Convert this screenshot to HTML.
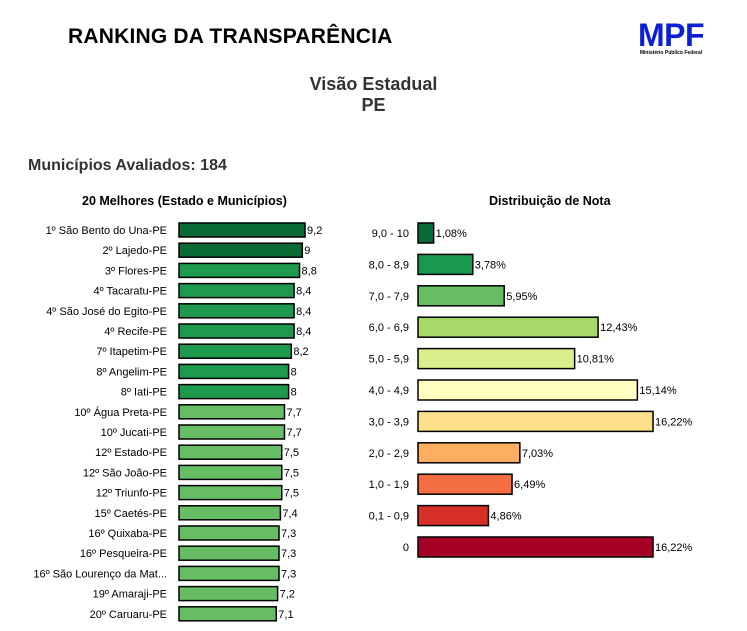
<!DOCTYPE html>
<html><head><meta charset="utf-8"><style>
body{margin:0;width:747px;height:631px;background:#fff;font-family:"Liberation Sans",sans-serif;overflow:hidden;position:relative}
.t{position:absolute;white-space:nowrap}
</style></head><body>
<div class="t" style="left:68px;top:25px;font-size:21px;font-weight:bold;color:#000;letter-spacing:0.2px">RANKING DA TRANSPARÊNCIA</div>
<div class="t" style="left:634px;top:20px;width:74px;text-align:center">
<div style="font-size:32px;font-weight:bold;color:#0a1fd6;line-height:30px;letter-spacing:-0.5px">MPF</div>
<div style="font-size:5px;font-weight:bold;color:#000">Ministério Público Federal</div></div>
<div class="t" style="left:0;width:747px;text-align:center;top:74px;font-size:18px;font-weight:bold;color:#333;line-height:21px">Visão Estadual<br>PE</div>
<div class="t" style="left:28px;top:157px;font-size:16px;font-weight:bold;color:#333">Municípios Avaliados: 184</div>
<div class="t" style="left:82px;top:194px;font-size:12.5px;font-weight:bold">20 Melhores (Estado e Municípios)</div>
<div class="t" style="left:489px;top:194px;font-size:12.5px;font-weight:bold">Distribuição de Nota</div>
<svg id="c" width="747" height="631" style="position:absolute;left:0;top:0"></svg>
<script>
const names=["1º São Bento do Una-PE","2º Lajedo-PE","3º Flores-PE","4º Tacaratu-PE","4º São José do Egito-PE","4º Recife-PE","7º Itapetim-PE","8º Angelim-PE","8º Iati-PE","10º Água Preta-PE","10º Jucati-PE","12º Estado-PE","12º São João-PE","12º Triunfo-PE","15º Caetés-PE","16º Quixaba-PE","16º Pesqueira-PE","16º São Lourenço da Mat...","19º Amaraji-PE","20º Caruaru-PE"];
const scores=[9.2,9,8.8,8.4,8.4,8.4,8.2,8,8,7.7,7.7,7.5,7.5,7.5,7.4,7.3,7.3,7.3,7.2,7.1];
const scoreLabels=["9,2","9","8,8","8,4","8,4","8,4","8,2","8","8","7,7","7,7","7,5","7,5","7,5","7,4","7,3","7,3","7,3","7,2","7,1"];
const ranges=["9,0 - 10","8,0 - 8,9","7,0 - 7,9","6,0 - 6,9","5,0 - 5,9","4,0 - 4,9","3,0 - 3,9","2,0 - 2,9","1,0 - 1,9","0,1 - 0,9","0"];
const pcts=[1.08,3.78,5.95,12.43,10.81,15.14,16.22,7.03,6.49,4.86,16.22];
const pctLabels=["1,08%","3,78%","5,95%","12,43%","10,81%","15,14%","16,22%","7,03%","6,49%","4,86%","16,22%"];
const distColors=["#0b6b37","#1a9850","#66bd63","#a6d96a","#d9ef8b","#ffffbf","#fee08b","#fdae61","#f46d43","#d73027","#a50026"];
const svg=document.getElementById('c');const NS="http://www.w3.org/2000/svg";
function mk(tag,a,txt){const e=document.createElementNS(NS,tag);for(const k in a)e.setAttribute(k,a[k]);if(txt!=null)e.textContent=txt;svg.appendChild(e);return e;}
const lx=v=>179+v*13.7, ly=i=>230+i*20.2;
scores.forEach((v,i)=>{
 const col=v>=9?"#0b6b37":v>=8?"#1e9a4f":"#66bd63";
 const r=mk('rect',{x:179,y:ly(i)-7,width:lx(v)-179,height:14,fill:col,stroke:"#000","stroke-width":1.5});
 
 
 const t=mk('text',{x:167,y:ly(i)+4,"text-anchor":"end","font-size":"11","font-family":"Liberation Sans, sans-serif"},names[i]);
 
 
 const l=mk('text',{x:lx(v)+2,y:ly(i)+4,"font-size":"11","font-family":"Liberation Sans, sans-serif"},scoreLabels[i]);
 
 
});
const rx=v=>418+v*14.49, ry=i=>233+i*31.4;
pcts.forEach((v,i)=>{
 const r=mk('rect',{x:418,y:ry(i)-10,width:rx(v)-418,height:20,fill:distColors[i],stroke:"#000","stroke-width":1.5});
 
 
 const t=mk('text',{x:409,y:ry(i)+4,"text-anchor":"end","font-size":"11","font-family":"Liberation Sans, sans-serif"},ranges[i]);
 
 
 const l=mk('text',{x:rx(v)+2,y:ry(i)+4,"font-size":"11","font-family":"Liberation Sans, sans-serif"},pctLabels[i]);
 
 
});
</script>
</body></html>
